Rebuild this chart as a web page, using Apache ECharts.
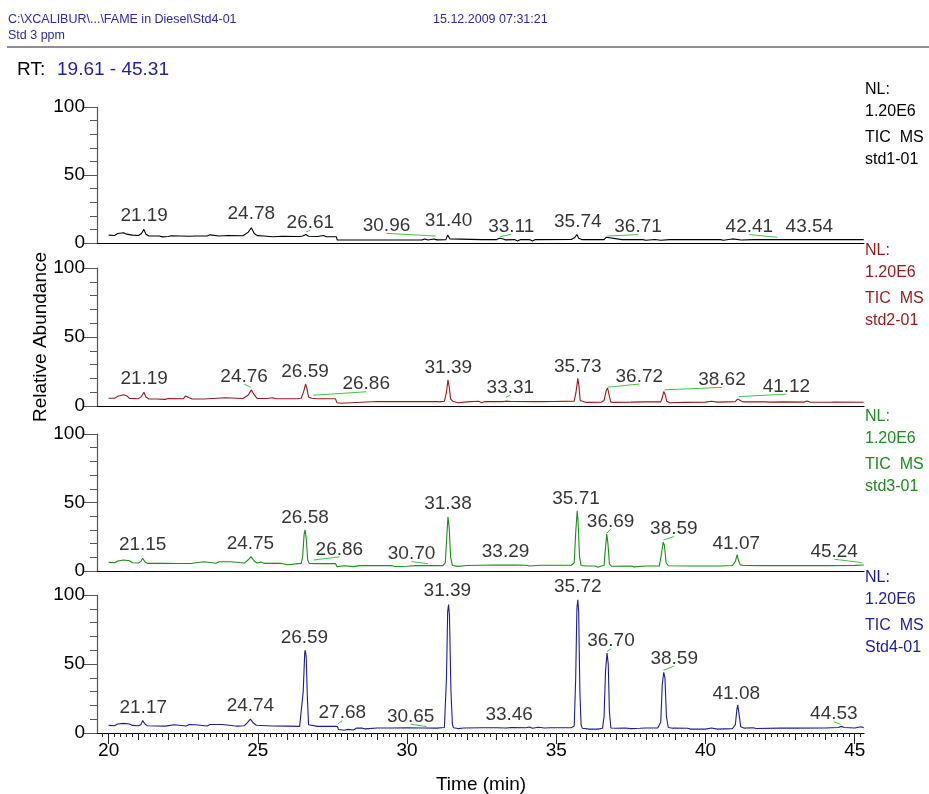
<!DOCTYPE html>
<html>
<head>
<meta charset="utf-8">
<title>FAME in Diesel - TIC</title>
<script src="https://cdn.jsdelivr.net/npm/echarts@6/dist/echarts.min.js"></script>
<style>
  html, body { margin: 0; padding: 0; background: #fff; }
  #chart { width: 929px; height: 794px; }
</style>
</head>
<body>
<div id="chart"></div>
<script>
// retention time window and axis ticks
const timeRange = [19.61, 45.31];
const xMajorTicks = [20, 25, 30, 35, 40, 45];
const yTickValues = [0, 50, 100];

// [time (min), relative abundance]
const trace1 = [
  [20.0, 5.8], [20.2, 5.5], [20.3, 7], [20.5, 7.5], [20.6, 6.5], [20.8, 5.8], [21.0, 5.5],
  [21.1, 7], [21.18, 10], [21.25, 6.5], [21.35, 5.2], [21.7, 5.1], [21.8, 4.5], [22.0, 4.8],
  [22.1, 5.3], [22.7, 5.0], [22.75, 6], [22.9, 5.2], [23.3, 5.1], [23.4, 6.0], [23.7, 5.2],
  [24.0, 5.5], [24.5, 5.3], [24.68, 8], [24.78, 11.2], [24.88, 7], [24.98, 5.4], [25.2, 5.2],
  [25.5, 4.6], [25.8, 5.0], [26.4, 4.8], [26.5, 5.2], [26.61, 6.3], [26.7, 5.0], [27.0, 4.8],
  [27.2, 5.5], [27.3, 4.6], [27.63, 4.6], [27.66, 2.2], [28.5, 2.2], [29.5, 2.2], [30.5, 2.3],
  [30.6, 3], [30.7, 2.2], [30.9, 3.0], [31.0, 2.3], [31.3, 2.5], [31.36, 5.8], [31.44, 3],
  [31.5, 2.5], [32.5, 2.5], [33.0, 2.5], [33.1, 3.5], [33.15, 4.5], [33.22, 3], [33.3, 2.3],
  [33.6, 2.5], [33.7, 1.5], [33.8, 2.5], [34.1, 2.5], [34.2, 1.5], [34.3, 2.5], [35.5, 2.6],
  [35.62, 4], [35.69, 6.3], [35.75, 3.5], [35.85, 2.5], [36.6, 2.5], [36.67, 4.2], [36.72, 2.8],
  [37.2, 2.5], [37.9, 2.5], [38.0, 2.0], [38.3, 2.6], [38.5, 2.0], [38.8, 2.5], [39.4, 2.5],
  [40.5, 2.5], [40.6, 2.0], [40.9, 3], [41.2, 2.2], [41.6, 2.5], [42.3, 2.6], [43.0, 2.5],
  [45.3, 2.5]
];
const trace2 = [
  [20.0, 5.6], [20.2, 5.6], [20.3, 7], [20.5, 8.2], [20.6, 7.5], [20.7, 5.5], [21.0, 5.3],
  [21.1, 7], [21.18, 10], [21.25, 6.5], [21.35, 5.1], [21.6, 5.1], [21.65, 4.6], [21.9, 4.8],
  [22.0, 5.4], [22.5, 5.2], [22.58, 7.3], [22.7, 6], [22.8, 5.1], [23.2, 5.1], [23.25, 6],
  [23.9, 6], [23.95, 5.1], [24.5, 5.4], [24.68, 8], [24.78, 11.7], [24.88, 8], [24.98, 5.4],
  [25.3, 5.4], [25.5, 6], [25.6, 5.2], [26.3, 5.2], [26.45, 5.6], [26.53, 10], [26.6, 16],
  [26.65, 12], [26.7, 6.5], [26.8, 5.6], [27.0, 5.3], [27.6, 5.3], [27.65, 2.3], [27.8, 2.0],
  [27.95, 2.2], [28.0, 3.2], [29.0, 3.3], [30.0, 3.2], [31.0, 3.3], [31.05, 4], [31.1, 3],
  [31.25, 3.5], [31.32, 10], [31.37, 19], [31.41, 14], [31.46, 5], [31.55, 3.2], [31.7, 2.4],
  [32.0, 3.0], [32.4, 3.4], [32.5, 2.3], [32.6, 3.2], [33.2, 3.2], [33.3, 3.5], [33.5, 3.3],
  [34.3, 3.2], [34.35, 4.2], [34.5, 3.2], [34.9, 3.3], [35.6, 3.5], [35.66, 10], [35.72, 20],
  [35.76, 14], [35.8, 4], [35.86, 3.0], [36.0, 2.6], [36.5, 2.7], [36.6, 4], [36.67, 11],
  [36.72, 13], [36.76, 9], [36.82, 3], [36.9, 2.6], [37.5, 2.8], [38.0, 3.0], [38.5, 3.0],
  [38.55, 6], [38.6, 10.5], [38.65, 8], [38.7, 3.5], [38.8, 2.4], [39.3, 2.6], [40.0, 2.8],
  [40.2, 3.4], [40.4, 2.8], [41.0, 3.2], [41.07, 5], [41.12, 6], [41.17, 4], [41.25, 3],
  [42.0, 3.0], [42.05, 3.8], [42.15, 2.8], [42.6, 3.0], [42.65, 2.4], [43.3, 2.8], [43.4, 3.6],
  [43.5, 2.8], [44.2, 2.7], [44.25, 1.8], [44.3, 2.8], [45.3, 2.7]
];
const trace3 = [
  [20.0, 6.3], [20.2, 6.0], [20.3, 7.3], [20.5, 8], [20.7, 7.5], [20.8, 6], [21.0, 5.8],
  [21.08, 7], [21.14, 9.3], [21.22, 6.5], [21.3, 5.6], [21.8, 5.6], [22.3, 5.5], [22.8, 5.6],
  [22.85, 6.8], [23.2, 6.8], [23.25, 5.6], [23.6, 5.6], [23.7, 6.8], [24.1, 6.8], [24.15, 5.6],
  [24.55, 5.8], [24.67, 8], [24.77, 10.5], [24.87, 7.5], [24.97, 5.8], [25.1, 6.5], [25.2, 5.6],
  [25.75, 5.6], [25.8, 4.6], [26.0, 4.6], [26.05, 5.6], [26.45, 5.6], [26.5, 10], [26.55, 27],
  [26.58, 30], [26.62, 24], [26.67, 8], [26.72, 5.6], [27.0, 5.4], [27.6, 5.4], [27.65, 3.2],
  [27.9, 3.8], [28.2, 3.2], [28.4, 3.9], [29.0, 3.9], [29.5, 3.9], [29.6, 3.3], [30.0, 3.5],
  [30.3, 3.9], [31.2, 3.9], [31.28, 6], [31.33, 25], [31.37, 39.6], [31.41, 32], [31.46, 10],
  [31.52, 4], [31.7, 3.4], [32.0, 4.0], [32.5, 4.2], [33.0, 4.3], [33.3, 4.3], [33.6, 4.4],
  [34.0, 4.2], [34.1, 3.6], [34.5, 4.2], [35.0, 4.2], [35.5, 4.2], [35.6, 6], [35.65, 28],
  [35.7, 44], [35.73, 36], [35.78, 10], [35.83, 4], [36.0, 3.6], [36.3, 3.6], [36.4, 2.8],
  [36.5, 3.6], [36.6, 4], [36.64, 15], [36.69, 27], [36.73, 20], [36.78, 5], [36.85, 3.5],
  [37.5, 3.6], [37.6, 3.0], [38.0, 3.6], [38.45, 3.6], [38.52, 12], [38.58, 21], [38.62, 19],
  [38.68, 6], [38.75, 3.8], [39.5, 3.6], [40.0, 3.6], [40.5, 3.6], [40.9, 4], [41.0, 7],
  [41.06, 12], [41.1, 8], [41.16, 4.5], [41.3, 4.0], [42.0, 3.9], [43.0, 3.9], [44.0, 3.9],
  [45.0, 4.1], [45.3, 4.4]
];
const trace4 = [
  [20.0, 5.5], [20.2, 5.3], [20.3, 6.5], [20.5, 7], [20.7, 6.5], [20.8, 5.5], [21.0, 5.3],
  [21.08, 6], [21.14, 9], [21.22, 6.5], [21.3, 5.2], [21.6, 5.1], [21.9, 5.0], [21.95, 6],
  [22.2, 6], [22.25, 5], [22.6, 5.1], [22.7, 6.2], [22.9, 6], [22.95, 5.1], [23.3, 5.1],
  [23.4, 6.2], [23.8, 6.2], [23.85, 5.2], [24.2, 5.2], [24.25, 6], [24.3, 5], [24.55, 5.3],
  [24.65, 7.5], [24.75, 10], [24.85, 7.2], [24.95, 5.6], [25.3, 5.3], [25.5, 5.1], [26.0, 5.0],
  [26.05, 4.6], [26.4, 4.8], [26.45, 6], [26.52, 30], [26.57, 58], [26.59, 60], [26.62, 55],
  [26.66, 25], [26.7, 6], [26.76, 5], [27.0, 4.8], [27.6, 4.8], [27.67, 4.6], [27.7, 2.5],
  [27.9, 2.0], [28.0, 2.6], [28.2, 2.2], [28.3, 3.5], [28.5, 3.5], [28.6, 3.0], [28.65, 3.6],
  [29.0, 3.6], [29.5, 3.6], [30.0, 3.7], [30.5, 3.6], [31.0, 3.5], [31.25, 4], [31.32, 40],
  [31.36, 88], [31.39, 93], [31.42, 85], [31.47, 30], [31.52, 6], [31.56, 3.8], [31.7, 3.2],
  [31.9, 3.6], [32.5, 3.8], [33.0, 3.8], [33.3, 3.6], [33.5, 3.9], [34.0, 3.8], [34.1, 4.4],
  [34.2, 3.5], [34.4, 4.2], [34.6, 3.6], [34.8, 3.8], [35.0, 3.8], [35.5, 3.8], [35.6, 5],
  [35.65, 40], [35.69, 90], [35.72, 96.5], [35.75, 88], [35.79, 30], [35.83, 6], [35.87, 3.5],
  [35.9, 2.5], [36.1, 2.8], [36.4, 2.8], [36.55, 3.5], [36.6, 12], [36.65, 45], [36.7, 58],
  [36.74, 50], [36.78, 15], [36.83, 3.6], [37.0, 3.4], [37.3, 3.6], [37.5, 3.2], [37.8, 3.4],
  [38.0, 3.6], [38.4, 3.6], [38.5, 8], [38.55, 35], [38.6, 44], [38.64, 40], [38.69, 12],
  [38.75, 4], [38.9, 3.5], [39.4, 3.4], [39.5, 2.8], [40.0, 2.8], [40.2, 3.6], [40.4, 2.8],
  [40.9, 3.2], [41.0, 6], [41.05, 17], [41.08, 20.4], [41.12, 14], [41.18, 4.5], [41.3, 3.5],
  [41.6, 3.8], [41.7, 3.3], [42.5, 3.5], [43.0, 3.5], [44.0, 3.6], [44.45, 4], [44.55, 4.8],
  [44.65, 4], [45.0, 3.6], [45.05, 4.5], [45.2, 4.5], [45.3, 3.9]
];

// peak annotations: [retention time, apex height, label time, label height]
const peaks1 = [
  [21.19, 10, 21.19, 20.1], [24.78, 11.2, 24.78, 21.2], [26.61, 8, 26.76, 15],
  [30.96, 5.1, 29.31, 12.6], [31.40, 5.8, 31.39, 16], [33.11, 4.6, 33.49, 11.9],
  [35.74, 6.3, 35.72, 15.3], [36.71, 5.1, 37.74, 11.7], [42.41, 4.2, 41.47, 11.7],
  [43.54, 2.5, 43.48, 11.7]
];
const peaks2 = [
  [21.19, 10, 21.19, 19.7], [24.76, 13.6, 24.54, 21.4], [26.59, 16, 26.58, 25],
  [26.86, 7.8, 28.63, 15.8], [31.39, 19, 31.38, 28], [33.31, 6.4, 33.46, 13.4],
  [35.73, 20, 35.72, 28.7], [36.72, 13.6, 37.78, 21.4], [38.62, 11.7, 40.55, 19],
  [41.12, 6.8, 42.71, 14.1]
];
const peaks3 = [
  [21.15, 9.3, 21.14, 19], [24.75, 10.5, 24.75, 20.2], [26.58, 30, 26.58, 38.5],
  [26.86, 8, 27.73, 15.8], [30.70, 5.3, 30.15, 12.4], [31.38, 39.6, 31.37, 49.4],
  [33.29, 4.3, 33.30, 14.1], [35.71, 44, 35.66, 53], [36.69, 27.5, 36.82, 36],
  [38.59, 22.6, 38.94, 30.7], [41.07, 12, 41.03, 20.2], [45.24, 6.1, 44.31, 14.1]
];
const peaks4 = [
  [21.17, 9, 21.16, 18.5], [24.74, 10, 24.75, 19.7], [26.59, 60, 26.56, 69],
  [27.68, 6.6, 27.83, 14.4], [30.65, 4.6, 30.12, 11.9], [31.39, 93, 31.35, 103],
  [33.46, 3.9, 33.42, 13.1], [35.72, 96.5, 35.72, 106], [36.70, 59, 36.83, 66.6],
  [38.59, 45.5, 38.95, 54], [41.08, 20.4, 41.03, 28.5], [44.53, 6.3, 44.30, 13.6]
];

const sampleNames = ['std1-01', 'std2-01', 'std3-01', 'Std4-01'];
const normLevel = '1.20E6';

const traces = [trace1, trace2, trace3, trace4];
const peaks = [peaks1, peaks2, peaks3, peaks4];
const colors = ['#000000', '#951a1a', '#1d8c1d', '#1d1d92'];
const panelTops = [107, 268, 434, 595];
const panelHeights = [136, 138, 137, 138];
const FONT = 'Liberation Sans';
const GRID_LEFT = 97, GRID_RIGHT = 65;

const chart = echarts.init(document.getElementById('chart'), null, { renderer: 'canvas' });

const mediumTicks = [];
for (let v = 20; v <= 45; v++) mediumTicks.push(v);
const minorTicks = [];
for (let k = 99; k <= 226; k++) minorTicks.push(k / 5);

const grids = [], xAxes = [], yAxes = [], series = [], graphics = [];

panelTops.forEach((top, i) => {
  grids.push({ left: GRID_LEFT, right: GRID_RIGHT, top: top, height: panelHeights[i] });
  const last = i === panelTops.length - 1;
  xAxes.push({
    type: 'value', gridIndex: i, min: timeRange[0], max: timeRange[1],
    position: 'bottom',
    axisLine: { show: true, onZero: false, lineStyle: { color: '#000', width: 1.2 } },
    axisTick: { show: last, length: 11, customValues: xMajorTicks, lineStyle: { color: '#222' } },
    axisLabel: { show: last, customValues: xMajorTicks, margin: 8, color: '#000', fontSize: 19, fontFamily: FONT },
    splitLine: { show: false }
  });
  yAxes.push({
    type: 'value', gridIndex: i, min: 0, max: 100, interval: 50,
    axisLine: { show: true, lineStyle: { color: '#555', width: 1.2 } },
    axisTick: { show: true, length: 13, lineStyle: { color: '#555' } },
    minorTick: { show: true, splitNumber: 5, length: 7, lineStyle: { color: '#555' } },
    axisLabel: { margin: 12, color: '#000', fontSize: 19, fontFamily: FONT,
      customValues: yTickValues },
    splitLine: { show: false }
  });

  series.push({
    type: 'line', xAxisIndex: i, yAxisIndex: i, data: traces[i],
    showSymbol: false, symbol: 'none', z: 3,
    lineStyle: { color: colors[i], width: 1.1 }
  });

  const connectors = peaks[i]
    .filter(p => Math.abs(p[2] - p[0]) > 0.1)
    .map(p => ({ coords: [[p[0], p[1]], [p[2], p[3] - 5.5]] }));
  series.push({
    type: 'lines', coordinateSystem: 'cartesian2d', xAxisIndex: i, yAxisIndex: i,
    data: connectors, z: 4, silent: true,
    lineStyle: { color: '#49c049', width: 1, opacity: 1 }
  });

  series.push({
    type: 'scatter', xAxisIndex: i, yAxisIndex: i, clip: false, z: 5,
    symbolSize: 1, itemStyle: { color: 'rgba(0,0,0,0)' },
    data: peaks[i].map(p => ({ name: p[0].toFixed(2), value: [p[2], p[3]] })),
    label: {
      show: true, position: 'inside', formatter: p => p.name,
      color: '#000', fontSize: 19, fontFamily: FONT
    }
  });

  // normalisation level and scan filter text at the right of each panel
  const fill = colors[i];
  const rows = [['NL:', -17], [normLevel, 5], ['TIC  MS', 31], [sampleNames[i], 53]];
  rows.forEach(r => {
    graphics.push({
      type: 'text', x: 865, y: top + r[1],
      style: { text: r[0], fill: fill, font: '16px ' + FONT, textVerticalAlign: 'middle', verticalAlign: 'middle' }
    });
  });
});

// extra tick rows on the bottom time axis
xAxes.push({
  type: 'value', gridIndex: 3, min: timeRange[0], max: timeRange[1], position: 'bottom', offset: 0,
  axisLine: { show: false }, axisLabel: { show: false }, splitLine: { show: false },
  axisTick: { show: true, length: 7, customValues: mediumTicks, lineStyle: { color: '#222' } }
});
xAxes.push({
  type: 'value', gridIndex: 3, min: timeRange[0], max: timeRange[1], position: 'bottom', offset: 0,
  axisLine: { show: false }, axisLabel: { show: false }, splitLine: { show: false },
  axisTick: { show: true, length: 4, customValues: minorTicks, lineStyle: { color: '#222' } }
});

const headerBlue = '#2a2aa4';
graphics.push(
  { type: 'text', x: 8, y: 20, style: { text: 'C:\\XCALIBUR\\...\\FAME in Diesel\\Std4-01', fill: headerBlue, font: '12.5px ' + FONT, textVerticalAlign: 'middle', verticalAlign: 'middle' } },
  { type: 'text', x: 8, y: 36, style: { text: 'Std 3 ppm', fill: headerBlue, font: '12.5px ' + FONT, textVerticalAlign: 'middle', verticalAlign: 'middle' } },
  { type: 'text', x: 433, y: 20, style: { text: '15.12.2009 07:31:21', fill: headerBlue, font: '12.5px ' + FONT, textVerticalAlign: 'middle', verticalAlign: 'middle' } },
  { type: 'line', shape: { x1: 7, y1: 47, x2: 929, y2: 47 }, style: { stroke: '#6a6a6a', lineWidth: 1.6 } },
  { type: 'text', x: 17, y: 70, style: { text: 'RT:', fill: '#000', font: '19px ' + FONT, textVerticalAlign: 'middle', verticalAlign: 'middle' } },
  { type: 'text', x: 57, y: 70, style: { text: timeRange[0].toFixed(2) + ' - ' + timeRange[1].toFixed(2), fill: '#1f1fa0', font: '19px ' + FONT, textVerticalAlign: 'middle', verticalAlign: 'middle' } },
  { type: 'text', x: 41, y: 337, rotation: Math.PI / 2, style: { text: 'Relative Abundance', fill: '#000', font: '19px ' + FONT, textAlign: 'center', align: 'center', textVerticalAlign: 'middle', verticalAlign: 'middle' } },
  { type: 'text', x: 481, y: 785, style: { text: 'Time (min)', fill: '#000', font: '19px ' + FONT, textAlign: 'center', align: 'center', textVerticalAlign: 'middle', verticalAlign: 'middle' } }
);

chart.setOption({
  animation: false,
  backgroundColor: '#fff',
  grid: grids,
  xAxis: xAxes,
  yAxis: yAxes,
  series: series,
  graphic: graphics
});
</script>
</body>
</html>
